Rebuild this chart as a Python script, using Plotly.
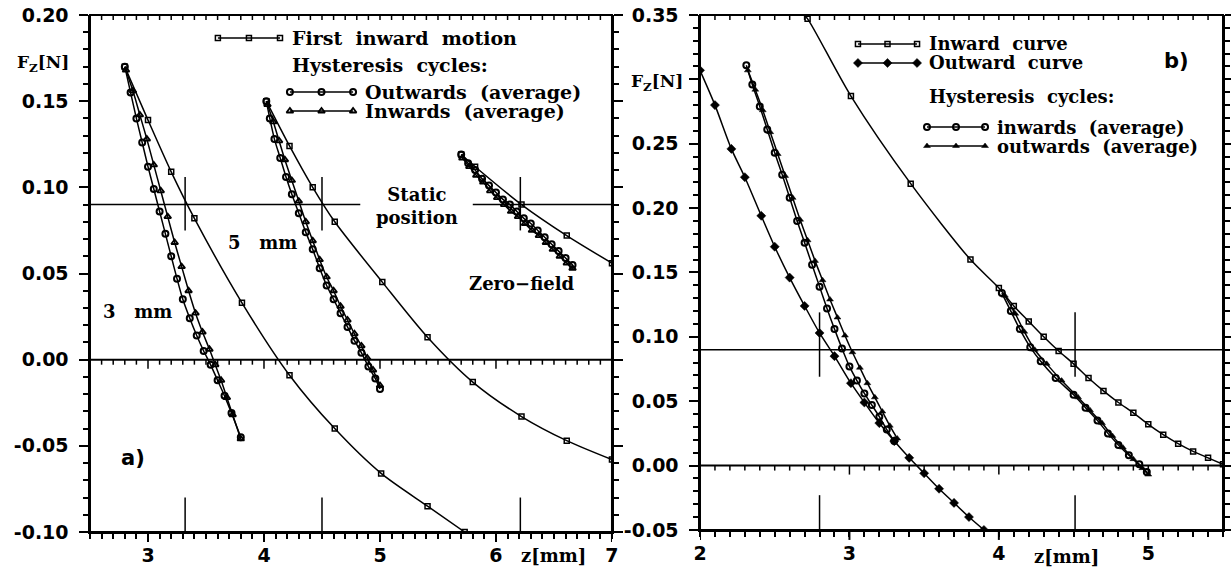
import plotly.graph_objects as go

# ======================= DATA : panel a) =======================
# first inward motion (open squares)
A_FIRST_3MM_Z = [2.80, 3.00, 3.20, 3.40, 3.81, 4.22, 4.61, 5.01, 5.41, 5.73]
A_FIRST_3MM_F = [0.170, 0.139, 0.109, 0.082, 0.033, -0.009, -0.040, -0.066, -0.085, -0.100]
A_FIRST_5MM_Z = [4.02, 4.22, 4.42, 4.61, 5.02, 5.41, 5.80, 6.22, 6.61, 7.00]
A_FIRST_5MM_F = [0.150, 0.124, 0.100, 0.080, 0.045, 0.013, -0.013, -0.033, -0.047, -0.058]
A_FIRST_ZF_Z = [5.70, 5.82, 6.22, 6.61, 7.00]
A_FIRST_ZF_F = [0.119, 0.112, 0.090, 0.072, 0.056]

# hysteresis cycles, outwards (average) - circles
A_OUT_3MM_Z = [2.80, 2.85, 2.90, 2.95, 3.00, 3.05, 3.10, 3.15, 3.20, 3.25, 3.30, 3.36, 3.42, 3.48, 3.54, 3.60, 3.66, 3.72, 3.80]
A_OUT_3MM_F = [0.170, 0.155, 0.140, 0.126, 0.112, 0.099, 0.086, 0.073, 0.060, 0.047, 0.035, 0.024, 0.014, 0.005, -0.003, -0.012, -0.021, -0.031, -0.045]
A_OUT_5MM_Z = [4.02, 4.05, 4.09, 4.14, 4.19, 4.24, 4.30, 4.36, 4.42, 4.48, 4.54, 4.60, 4.66, 4.72, 4.78, 4.84, 4.90, 4.96, 5.00]
A_OUT_5MM_F = [0.150, 0.140, 0.128, 0.117, 0.106, 0.096, 0.085, 0.074, 0.064, 0.053, 0.043, 0.035, 0.027, 0.019, 0.011, 0.004, -0.004, -0.011, -0.017]
A_OUT_ZF_Z = [5.70, 5.76, 5.82, 5.88, 5.94, 6.00, 6.06, 6.12, 6.18, 6.24, 6.30, 6.36, 6.42, 6.48, 6.54, 6.60, 6.66]
A_OUT_ZF_F = [0.119, 0.114, 0.110, 0.105, 0.101, 0.097, 0.093, 0.090, 0.086, 0.082, 0.079, 0.075, 0.071, 0.067, 0.063, 0.059, 0.055]

# hysteresis cycles, inwards (average) - triangles
A_IN_3MM_Z = [2.81, 2.87, 2.93, 2.99, 3.05, 3.11, 3.17, 3.23, 3.29, 3.35, 3.41, 3.47, 3.53, 3.58, 3.63, 3.68, 3.73, 3.80]
A_IN_3MM_F = [0.168, 0.156, 0.142, 0.128, 0.113, 0.098, 0.083, 0.068, 0.054, 0.040, 0.027, 0.016, 0.006, -0.003, -0.012, -0.022, -0.032, -0.046]
A_IN_5MM_Z = [4.03, 4.08, 4.13, 4.18, 4.24, 4.30, 4.36, 4.42, 4.48, 4.54, 4.60, 4.66, 4.72, 4.78, 4.84, 4.89, 4.94, 5.00]
A_IN_5MM_F = [0.148, 0.138, 0.127, 0.116, 0.104, 0.092, 0.080, 0.069, 0.058, 0.048, 0.040, 0.031, 0.023, 0.015, 0.008, 0.001, -0.006, -0.015]
A_IN_ZF_Z = [5.71, 5.77, 5.83, 5.89, 5.95, 6.01, 6.07, 6.13, 6.19, 6.25, 6.31, 6.37, 6.43, 6.49, 6.55, 6.61, 6.66]
A_IN_ZF_F = [0.117, 0.112, 0.107, 0.103, 0.098, 0.094, 0.090, 0.086, 0.083, 0.079, 0.075, 0.072, 0.068, 0.064, 0.060, 0.056, 0.053]

A_STATIC_F = 0.09
A_STATIC_Z = [3.32, 4.50, 6.21]

A_X_TICKS = [3, 4, 5, 6, 7]
A_X_TEXT = ["3", "4", "5", "6", "7"]
A_Y_TICKS = [-0.10, -0.05, 0.00, 0.05, 0.10, 0.15, 0.20]
A_Y_TEXT = ["-0.10", "-0.05", "0.00", "0.05", "0.10", "0.15", "0.20"]

# ======================= DATA : panel b) =======================
B_INWARD_Z = [2.68, 2.72, 3.01, 3.41, 3.81, 4.00, 4.10, 4.20, 4.30, 4.40, 4.50, 4.60, 4.70, 4.80, 4.90, 5.00, 5.10, 5.20, 5.30, 5.40, 5.50]
B_INWARD_F = [0.352, 0.347, 0.287, 0.219, 0.160, 0.138, 0.124, 0.112, 0.100, 0.089, 0.079, 0.068, 0.058, 0.049, 0.041, 0.032, 0.024, 0.017, 0.011, 0.006, 0.001]
B_OUTWARD_Z = [2.00, 2.10, 2.21, 2.30, 2.41, 2.50, 2.60, 2.70, 2.80, 2.90, 3.01, 3.10, 3.20, 3.30, 3.40, 3.50, 3.60, 3.70, 3.80, 3.90]
B_OUTWARD_F = [0.307, 0.280, 0.246, 0.224, 0.194, 0.170, 0.146, 0.124, 0.103, 0.085, 0.064, 0.049, 0.033, 0.019, 0.006, -0.006, -0.018, -0.029, -0.040, -0.050]

# hysteresis cycles, inwards (average) - circles
B_IN_1_Z = [2.31, 2.35, 2.40, 2.45, 2.50, 2.55, 2.60, 2.65, 2.70, 2.75, 2.80, 2.85, 2.90, 2.95, 3.00, 3.05, 3.10, 3.15, 3.20, 3.25, 3.30]
B_IN_1_F = [0.311, 0.296, 0.279, 0.261, 0.243, 0.226, 0.208, 0.190, 0.173, 0.156, 0.139, 0.122, 0.106, 0.091, 0.077, 0.066, 0.056, 0.047, 0.038, 0.028, 0.019]
B_IN_2_Z = [4.02, 4.08, 4.14, 4.21, 4.28, 4.38, 4.50, 4.58, 4.66, 4.73, 4.80, 4.87, 4.94, 4.99]
B_IN_2_F = [0.134, 0.120, 0.106, 0.092, 0.081, 0.068, 0.055, 0.045, 0.035, 0.025, 0.016, 0.008, 0.001, -0.005]

# hysteresis cycles, outwards (average) - triangles
B_OUT_1_Z = [2.32, 2.37, 2.42, 2.47, 2.52, 2.57, 2.62, 2.67, 2.72, 2.77, 2.82, 2.87, 2.92, 2.97, 3.02, 3.07, 3.12, 3.17, 3.22, 3.27, 3.32]
B_OUT_1_F = [0.307, 0.292, 0.276, 0.259, 0.242, 0.225, 0.208, 0.191, 0.175, 0.159, 0.144, 0.129, 0.115, 0.101, 0.088, 0.076, 0.064, 0.053, 0.042, 0.031, 0.021]
B_OUT_2_Z = [4.04, 4.11, 4.17, 4.24, 4.32, 4.42, 4.53, 4.61, 4.69, 4.76, 4.83, 4.90, 4.96, 5.00]
B_OUT_2_F = [0.132, 0.118, 0.104, 0.090, 0.079, 0.066, 0.053, 0.043, 0.033, 0.023, 0.014, 0.005, -0.002, -0.007]

B_STATIC_F = 0.09
B_STATIC_Z = [2.80, 4.51]

B_X_TICKS = [2, 3, 4, 5]
B_X_TEXT = ["2", "3", "4", "5"]
B_Y_TICKS = [-0.05, 0.00, 0.05, 0.10, 0.15, 0.20, 0.25, 0.30, 0.35]
B_Y_TEXT = ["-0.05", "0.00", "0.05", "0.10", "0.15", "0.20", "0.25", "", "0.35"]

SP = "\u00a0 "
A_LEGEND = ["First" + SP + "inward" + SP + "motion", "Hysteresis" + SP + "cycles:",
            "Outwards" + SP + "(average)", "Inwards" + SP + "(average)"]
B_LEGEND = ["Inward" + SP + "curve", "Outward" + SP + "curve", "Hysteresis" + SP + "cycles:",
            "inwards" + SP + "(average)", "outwards" + SP + "(average)"]

# ======================= STYLE =======================
SERIF = "DejaVu Serif"
SANS = "DejaVu Sans"
K = "black"

A_XR, A_YR = [2.5, 7.0], [-0.10, 0.20]
B_XR, B_YR = [2.0, 5.5], [-0.05, 0.35]
A_DOM_X, B_DOM_X = [0.0, 0.4607], [0.5384, 1.0]
A_DOM_Y, B_DOM_Y = [0.0, 1.0], [0.004, 1.0]

SQ = dict(symbol="square-open", size=5, color=K, line=dict(width=1.5, color=K))
CI = dict(symbol="circle-open", size=6, color=K, line=dict(width=2.0, color=K))
TR = dict(symbol="triangle-up-open", size=6, color=K, line=dict(width=1.8, color=K))
DI = dict(symbol="diamond", size=7, color=K, line=dict(width=0.5, color=K))
TRf = dict(symbol="triangle-up", size=6, color=K, line=dict(width=0.5, color=K))

fig = go.Figure()


def add_curve(z, f, marker, xa, ya, width=1.5):
    fig.add_trace(go.Scatter(
        x=z, y=f, mode="lines+markers", xaxis=xa, yaxis=ya,
        line=dict(color=K, width=width, shape="spline", smoothing=0.8),
        marker=marker, showlegend=False, hoverinfo="skip"))


# ---- panel a) ----
add_curve(A_FIRST_3MM_Z, A_FIRST_3MM_F, SQ, "x", "y")
add_curve(A_FIRST_5MM_Z, A_FIRST_5MM_F, SQ, "x", "y")
add_curve(A_FIRST_ZF_Z, A_FIRST_ZF_F, SQ, "x", "y")
add_curve(A_OUT_3MM_Z, A_OUT_3MM_F, CI, "x", "y")
add_curve(A_OUT_5MM_Z, A_OUT_5MM_F, CI, "x", "y")
add_curve(A_OUT_ZF_Z, A_OUT_ZF_F, CI, "x", "y")
add_curve(A_IN_3MM_Z, A_IN_3MM_F, TR, "x", "y")
add_curve(A_IN_5MM_Z, A_IN_5MM_F, TR, "x", "y")
add_curve(A_IN_ZF_Z, A_IN_ZF_F, TR, "x", "y")

# ---- panel b) ----
add_curve(B_INWARD_Z, B_INWARD_F, SQ, "x2", "y2")
add_curve(B_OUTWARD_Z, B_OUTWARD_F, DI, "x2", "y2")
add_curve(B_IN_1_Z, B_IN_1_F, CI, "x2", "y2")
add_curve(B_IN_2_Z, B_IN_2_F, CI, "x2", "y2")
add_curve(B_OUT_1_Z, B_OUT_1_F, TRf, "x2", "y2")
add_curve(B_OUT_2_Z, B_OUT_2_F, TRf, "x2", "y2")


# ---- legends: positions given as fractions of each panel ----
def fx(rng, f):
    return rng[0] + f * (rng[1] - rng[0])


# (sample start, sample end, text start, row height) per row
A_LEG = [(0.245, 0.364, 0.383, 0.9555), (None, None, 0.383, 0.903),
         (0.383, 0.504, 0.523, 0.851), (0.383, 0.504, 0.523, 0.8143)]
A_LEG_MARK = [SQ, None, CI, TR]
B_LEG = [(0.302, 0.415, 0.434, 0.9437), (0.302, 0.415, 0.434, 0.9068),
         (None, None, 0.434, 0.8408), (0.434, 0.545, 0.564, 0.7825), (0.434, 0.545, 0.564, 0.7456)]
B_LEG_MARK = [SQ, DI, None, CI, TRf]

annotations = []


def build_legend(rows, marks, labels, xr, yr, xa, ya, size):
    for (s0, s1, t0, fy), mk, lab in zip(rows, marks, labels):
        y = fx(yr, fy)
        if mk is not None:
            x0, x1 = fx(xr, s0), fx(xr, s1)
            fig.add_trace(go.Scatter(
                x=[x0, (x0 + x1) / 2, x1], y=[y, y, y], mode="lines+markers",
                xaxis=xa, yaxis=ya, line=dict(color=K, width=1.5), marker=mk,
                showlegend=False, hoverinfo="skip", cliponaxis=False))
        annotations.append(dict(x=fx(xr, t0), y=y, xref=xa, yref=ya, text=lab, showarrow=False,
                                xanchor="left", yanchor="middle",
                                font=dict(family=SERIF, size=size, color=K, weight="bold")))


build_legend(A_LEG, A_LEG_MARK, A_LEGEND, A_XR, A_YR, "x", "y", 19)
build_legend(B_LEG, B_LEG_MARK, B_LEGEND, B_XR, B_YR, "x2", "y2", 18)

LBLFONT = dict(family=SERIF, size=18, color=K, weight="bold")
SP3 = "\u00a0\u00a0 "
annotations += [
    dict(x=5.32, y=0.089, xref="x", yref="y", text="Static<br>position", showarrow=False,
         align="center", xanchor="center", yanchor="middle", font=LBLFONT),
    dict(x=3.99, y=0.068, xref="x", yref="y", text="5" + SP3 + "mm", showarrow=False,
         xanchor="center", yanchor="middle", font=LBLFONT),
    dict(x=2.91, y=0.028, xref="x", yref="y", text="3" + SP3 + "mm", showarrow=False,
         xanchor="center", yanchor="middle", font=LBLFONT),
    dict(x=6.22, y=0.044, xref="x", yref="y", text="Zero\u2212field", showarrow=False,
         xanchor="center", yanchor="middle", font=LBLFONT),
    dict(x=2.87, y=-0.057, xref="x", yref="y", text="a)", showarrow=False,
         xanchor="center", yanchor="middle", font=dict(family=SANS, size=21, color=K, weight="bold")),
    dict(x=5.19, y=0.314, xref="x2", yref="y2", text="b)", showarrow=False,
         xanchor="center", yanchor="middle", font=dict(family=SANS, size=21, color=K, weight="bold")),
    dict(x=-0.0415, y=0.907, xref="paper", yref="paper", text="F<sub>Z</sub>[N]", showarrow=False,
         xanchor="center", yanchor="middle", font=dict(family=SERIF, size=17, color=K, weight="bold")),
    dict(x=0.5004, y=0.870, xref="paper", yref="paper", text="F<sub>Z</sub>[N]", showarrow=False,
         xanchor="center", yanchor="middle", font=dict(family=SERIF, size=17, color=K, weight="bold")),
    dict(x=0.4087, y=-0.0445, xref="paper", yref="paper", text="z[mm]", showarrow=False,
         xanchor="center", yanchor="middle", font=dict(family=SERIF, size=18, color=K, weight="bold")),
    dict(x=0.862, y=-0.048, xref="paper", yref="paper", text="z[mm]", showarrow=False,
         xanchor="center", yanchor="middle", font=dict(family=SERIF, size=18, color=K, weight="bold")),
]

# ---- static-position lines ----
shapes = []
LINE = dict(color=K, width=1.5)
shapes.append(dict(type="line", xref="x", yref="y", x0=A_XR[0], x1=4.83, y0=A_STATIC_F, y1=A_STATIC_F, line=LINE))
shapes.append(dict(type="line", xref="x", yref="y", x0=5.80, x1=A_XR[1], y0=A_STATIC_F, y1=A_STATIC_F, line=LINE))
for z in A_STATIC_Z:
    shapes.append(dict(type="line", xref="x", yref="y", x0=z, x1=z, y0=A_STATIC_F - 0.015, y1=A_STATIC_F + 0.016, line=LINE))
    shapes.append(dict(type="line", xref="x", yref="y", x0=z, x1=z, y0=A_YR[0], y1=A_YR[0] + 0.02, line=LINE))
shapes.append(dict(type="line", xref="x2", yref="y2", x0=B_XR[0], x1=B_XR[1], y0=B_STATIC_F, y1=B_STATIC_F, line=LINE))
for z in B_STATIC_Z:
    shapes.append(dict(type="line", xref="x2", yref="y2", x0=z, x1=z, y0=B_STATIC_F - 0.021, y1=B_STATIC_F + 0.029, line=LINE))
    shapes.append(dict(type="line", xref="x2", yref="y2", x0=z, x1=z, y0=B_YR[0], y1=B_YR[0] + 0.027, line=LINE))

# ---- frames, zero lines and their tick marks (decoration) ----
FRAME = dict(color=K, width=2)
TICKL = dict(color=K, width=1.5)
MAJL = dict(color=K, width=2)


def frame(xa, ya, xr, majors):
    shapes.append(dict(type="rect", xref=xa + " domain", yref=ya + " domain",
                       x0=0, x1=1, y0=0, y1=1, line=FRAME, fillcolor="rgba(0,0,0,0)"))
    shapes.append(dict(type="line", xref=xa + " domain", yref=ya, x0=0, x1=1, y0=0, y1=0, line=FRAME))
    n = int(round((xr[1] - xr[0]) / 0.1))
    for i in range(n + 1):
        z = round(xr[0] + 0.1 * i, 2)
        major = abs(z - round(z)) < 1e-6
        # ticks hanging below the zero line
        shapes.append(dict(type="line", xref=xa, yref=ya, ysizemode="pixel", yanchor=0,
                           x0=z, x1=z, y0=0, y1=-9 if major else -5, line=TICKL))
        # inward ticks under the top frame
        shapes.append(dict(type="line", xref=xa, yref=ya + " domain", ysizemode="pixel", yanchor=1,
                           x0=z, x1=z, y0=0, y1=-5, line=TICKL))
    # long major ticks below the bottom axis
    for z in majors:
        shapes.append(dict(type="line", xref=xa, yref=ya + " domain", ysizemode="pixel", yanchor=0,
                           x0=z, x1=z, y0=0, y1=-10, line=MAJL))


frame("x", "y", A_XR, A_X_TICKS)
frame("x2", "y2", B_XR, B_X_TICKS)

TICKFONT = dict(family=SANS, size=19, color=K, weight="bold")
BASE = dict(showgrid=False, zeroline=False, showline=True, linewidth=2, linecolor=K,
            tickcolor=K, tickwidth=2, automargin=False)


def minor(tick0, dtick):
    return dict(tick0=tick0, dtick=dtick, ticks="outside", ticklen=5, tickwidth=1.5,
                tickcolor=K, showgrid=False)


def ylabels(texts):
    return [t + "\u00a0" if t else t for t in texts]


fig.update_layout(
    template="none",
    width=1231, height=578,
    margin=dict(l=90, r=8, t=15, b=46, autoexpand=False),
    paper_bgcolor="white", plot_bgcolor="white",
    showlegend=False,
    annotations=annotations, shapes=shapes,
    xaxis=dict(BASE, domain=A_DOM_X, range=A_XR, anchor="y", ticks="outside", ticklen=5,
               tickmode="array", tickvals=A_X_TICKS, ticktext=A_X_TEXT,
               tickfont=TICKFONT, minor=minor(A_XR[0], 0.1)),
    yaxis=dict(BASE, domain=A_DOM_Y, range=A_YR, anchor="x", ticks="outside", ticklen=9,
               mirror="ticks", tickmode="array", tickvals=A_Y_TICKS, ticktext=ylabels(A_Y_TEXT),
               tickfont=TICKFONT, minor=minor(0, 0.01)),
    xaxis2=dict(BASE, domain=B_DOM_X, range=B_XR, anchor="y2", ticks="outside", ticklen=5,
                tickmode="array", tickvals=B_X_TICKS, ticktext=B_X_TEXT,
                tickfont=TICKFONT, minor=minor(B_XR[0], 0.1)),
    yaxis2=dict(BASE, domain=B_DOM_Y, range=B_YR, anchor="x2", ticks="outside", ticklen=9,
                mirror="ticks", tickmode="array", tickvals=B_Y_TICKS, ticktext=ylabels(B_Y_TEXT),
                tickfont=TICKFONT, minor=minor(0, 0.01)),
)

fig.write_html("out.html")
